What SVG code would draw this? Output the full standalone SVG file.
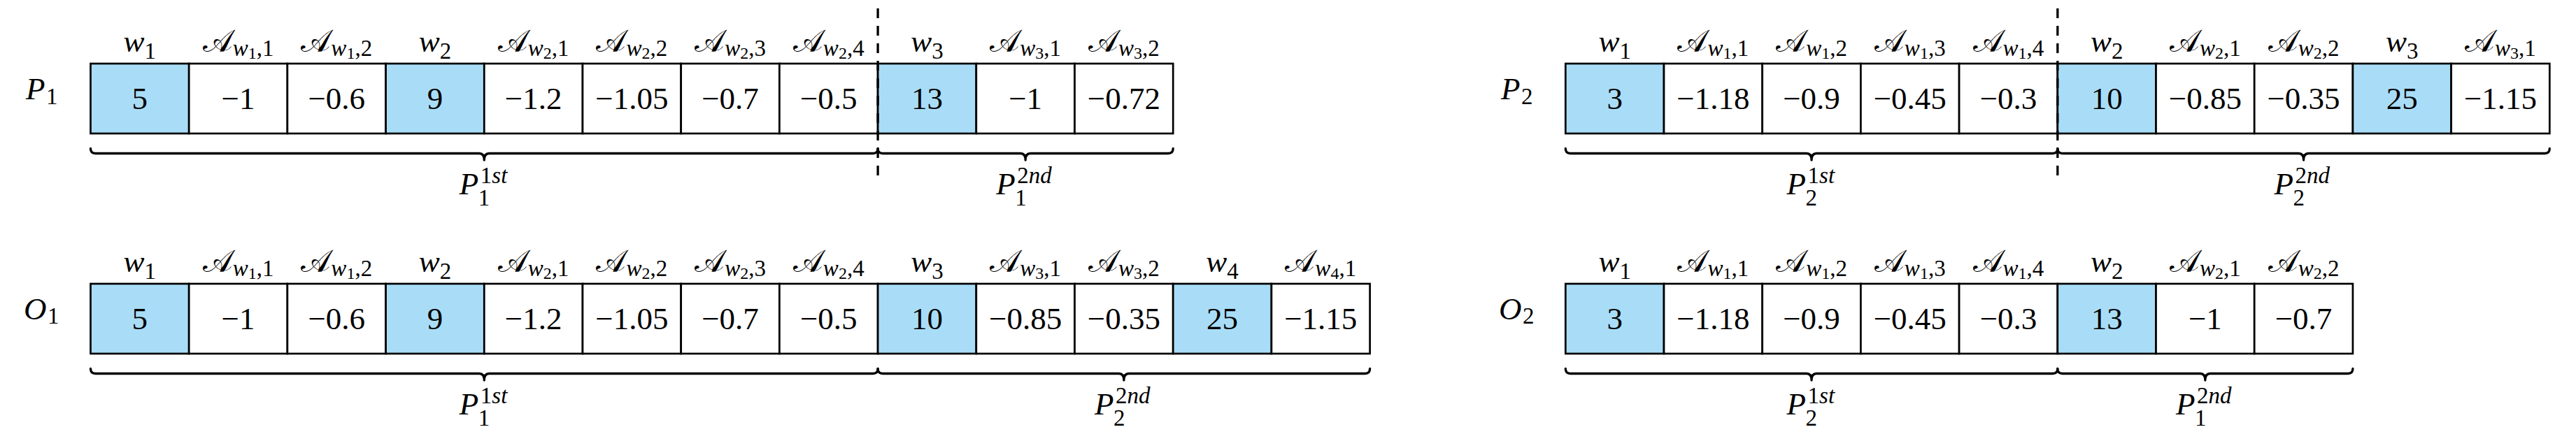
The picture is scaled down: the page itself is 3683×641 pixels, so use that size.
<svg xmlns="http://www.w3.org/2000/svg" width="3683" height="641" viewBox="0 0 3683 641">
<style>
text{font-family:"Liberation Serif",serif;fill:#000}
.lab{font-size:45px;text-anchor:middle}
.num{font-size:45px;text-anchor:middle}
.rl{font-size:45px}
.it{font-style:italic}
.cal{font-family:"DejaVu Serif","DejaVu Sans",serif;font-style:normal}
.s{font-size:33px}
.ss{font-size:24px}
.cell{fill:#fff;stroke:#000;stroke-width:2.7}
.blue{fill:#A9DDF7}
.brace{fill:none;stroke:#000;stroke-width:3.3;stroke-linecap:round;stroke-linejoin:round}
.dash{fill:none;stroke:#000;stroke-width:3.3;stroke-dasharray:14 11}
</style>

<!-- ===== P1 row ===== -->
<g id="row-P1">
<text class="rl it" x="37" y="141.5">P</text><text class="rl s" x="66" y="148.5">1</text>
<g id="P1-c0"><rect class="cell blue" x="129.5" y="91" width="140.7" height="100"/><text class="num" x="199.85" y="156">5</text><text class="lab" x="199.85" y="73.6"><tspan class="it">w</tspan><tspan class="s" dy="10">1</tspan></text></g>
<g id="P1-c1"><rect class="cell" x="270.2" y="91" width="140.7" height="100"/><text class="num" x="340.55" y="156">−1</text><text class="lab" x="340.55" y="73.6"><tspan class="cal">𝒜</tspan><tspan class="s it" dy="6">w</tspan><tspan class="ss" dy="4">1</tspan><tspan class="s" dy="-4">,1</tspan></text></g>
<g id="P1-c2"><rect class="cell" x="410.9" y="91" width="140.7" height="100"/><text class="num" x="481.25" y="156">−0.6</text><text class="lab" x="481.25" y="73.6"><tspan class="cal">𝒜</tspan><tspan class="s it" dy="6">w</tspan><tspan class="ss" dy="4">1</tspan><tspan class="s" dy="-4">,2</tspan></text></g>
<g id="P1-c3"><rect class="cell blue" x="551.6" y="91" width="140.7" height="100"/><text class="num" x="621.95" y="156">9</text><text class="lab" x="621.95" y="73.6"><tspan class="it">w</tspan><tspan class="s" dy="10">2</tspan></text></g>
<g id="P1-c4"><rect class="cell" x="692.3" y="91" width="140.7" height="100"/><text class="num" x="762.65" y="156">−1.2</text><text class="lab" x="762.65" y="73.6"><tspan class="cal">𝒜</tspan><tspan class="s it" dy="6">w</tspan><tspan class="ss" dy="4">2</tspan><tspan class="s" dy="-4">,1</tspan></text></g>
<g id="P1-c5"><rect class="cell" x="833" y="91" width="140.7" height="100"/><text class="num" x="903.35" y="156">−1.05</text><text class="lab" x="903.35" y="73.6"><tspan class="cal">𝒜</tspan><tspan class="s it" dy="6">w</tspan><tspan class="ss" dy="4">2</tspan><tspan class="s" dy="-4">,2</tspan></text></g>
<g id="P1-c6"><rect class="cell" x="973.7" y="91" width="140.7" height="100"/><text class="num" x="1044.05" y="156">−0.7</text><text class="lab" x="1044.05" y="73.6"><tspan class="cal">𝒜</tspan><tspan class="s it" dy="6">w</tspan><tspan class="ss" dy="4">2</tspan><tspan class="s" dy="-4">,3</tspan></text></g>
<g id="P1-c7"><rect class="cell" x="1114.4" y="91" width="140.7" height="100"/><text class="num" x="1184.75" y="156">−0.5</text><text class="lab" x="1184.75" y="73.6"><tspan class="cal">𝒜</tspan><tspan class="s it" dy="6">w</tspan><tspan class="ss" dy="4">2</tspan><tspan class="s" dy="-4">,4</tspan></text></g>
<g id="P1-c8"><rect class="cell blue" x="1255.1" y="91" width="140.7" height="100"/><text class="num" x="1325.45" y="156">13</text><text class="lab" x="1325.45" y="73.6"><tspan class="it">w</tspan><tspan class="s" dy="10">3</tspan></text></g>
<g id="P1-c9"><rect class="cell" x="1395.8" y="91" width="140.7" height="100"/><text class="num" x="1466.15" y="156">−1</text><text class="lab" x="1466.15" y="73.6"><tspan class="cal">𝒜</tspan><tspan class="s it" dy="6">w</tspan><tspan class="ss" dy="4">3</tspan><tspan class="s" dy="-4">,1</tspan></text></g>
<g id="P1-c10"><rect class="cell" x="1536.5" y="91" width="140.7" height="100"/><text class="num" x="1606.85" y="156">−0.72</text><text class="lab" x="1606.85" y="73.6"><tspan class="cal">𝒜</tspan><tspan class="s it" dy="6">w</tspan><tspan class="ss" dy="4">3</tspan><tspan class="s" dy="-4">,2</tspan></text></g>
</g>

<!-- ===== O1 row ===== -->
<g id="row-O1">
<text class="rl it" x="34" y="456.5">O</text><text class="rl s" x="68" y="463">1</text>
<g id="O1-c0"><rect class="cell blue" x="129.5" y="406" width="140.7" height="100"/><text class="num" x="199.85" y="471">5</text><text class="lab" x="199.85" y="388.6"><tspan class="it">w</tspan><tspan class="s" dy="10">1</tspan></text></g>
<g id="O1-c1"><rect class="cell" x="270.2" y="406" width="140.7" height="100"/><text class="num" x="340.55" y="471">−1</text><text class="lab" x="340.55" y="388.6"><tspan class="cal">𝒜</tspan><tspan class="s it" dy="6">w</tspan><tspan class="ss" dy="4">1</tspan><tspan class="s" dy="-4">,1</tspan></text></g>
<g id="O1-c2"><rect class="cell" x="410.9" y="406" width="140.7" height="100"/><text class="num" x="481.25" y="471">−0.6</text><text class="lab" x="481.25" y="388.6"><tspan class="cal">𝒜</tspan><tspan class="s it" dy="6">w</tspan><tspan class="ss" dy="4">1</tspan><tspan class="s" dy="-4">,2</tspan></text></g>
<g id="O1-c3"><rect class="cell blue" x="551.6" y="406" width="140.7" height="100"/><text class="num" x="621.95" y="471">9</text><text class="lab" x="621.95" y="388.6"><tspan class="it">w</tspan><tspan class="s" dy="10">2</tspan></text></g>
<g id="O1-c4"><rect class="cell" x="692.3" y="406" width="140.7" height="100"/><text class="num" x="762.65" y="471">−1.2</text><text class="lab" x="762.65" y="388.6"><tspan class="cal">𝒜</tspan><tspan class="s it" dy="6">w</tspan><tspan class="ss" dy="4">2</tspan><tspan class="s" dy="-4">,1</tspan></text></g>
<g id="O1-c5"><rect class="cell" x="833" y="406" width="140.7" height="100"/><text class="num" x="903.35" y="471">−1.05</text><text class="lab" x="903.35" y="388.6"><tspan class="cal">𝒜</tspan><tspan class="s it" dy="6">w</tspan><tspan class="ss" dy="4">2</tspan><tspan class="s" dy="-4">,2</tspan></text></g>
<g id="O1-c6"><rect class="cell" x="973.7" y="406" width="140.7" height="100"/><text class="num" x="1044.05" y="471">−0.7</text><text class="lab" x="1044.05" y="388.6"><tspan class="cal">𝒜</tspan><tspan class="s it" dy="6">w</tspan><tspan class="ss" dy="4">2</tspan><tspan class="s" dy="-4">,3</tspan></text></g>
<g id="O1-c7"><rect class="cell" x="1114.4" y="406" width="140.7" height="100"/><text class="num" x="1184.75" y="471">−0.5</text><text class="lab" x="1184.75" y="388.6"><tspan class="cal">𝒜</tspan><tspan class="s it" dy="6">w</tspan><tspan class="ss" dy="4">2</tspan><tspan class="s" dy="-4">,4</tspan></text></g>
<g id="O1-c8"><rect class="cell blue" x="1255.1" y="406" width="140.7" height="100"/><text class="num" x="1325.45" y="471">10</text><text class="lab" x="1325.45" y="388.6"><tspan class="it">w</tspan><tspan class="s" dy="10">3</tspan></text></g>
<g id="O1-c9"><rect class="cell" x="1395.8" y="406" width="140.7" height="100"/><text class="num" x="1466.15" y="471">−0.85</text><text class="lab" x="1466.15" y="388.6"><tspan class="cal">𝒜</tspan><tspan class="s it" dy="6">w</tspan><tspan class="ss" dy="4">3</tspan><tspan class="s" dy="-4">,1</tspan></text></g>
<g id="O1-c10"><rect class="cell" x="1536.5" y="406" width="140.7" height="100"/><text class="num" x="1606.85" y="471">−0.35</text><text class="lab" x="1606.85" y="388.6"><tspan class="cal">𝒜</tspan><tspan class="s it" dy="6">w</tspan><tspan class="ss" dy="4">3</tspan><tspan class="s" dy="-4">,2</tspan></text></g>
<g id="O1-c11"><rect class="cell blue" x="1677.2" y="406" width="140.7" height="100"/><text class="num" x="1747.55" y="471">25</text><text class="lab" x="1747.55" y="388.6"><tspan class="it">w</tspan><tspan class="s" dy="10">4</tspan></text></g>
<g id="O1-c12"><rect class="cell" x="1817.9" y="406" width="140.7" height="100"/><text class="num" x="1888.25" y="471">−1.15</text><text class="lab" x="1888.25" y="388.6"><tspan class="cal">𝒜</tspan><tspan class="s it" dy="6">w</tspan><tspan class="ss" dy="4">4</tspan><tspan class="s" dy="-4">,1</tspan></text></g>
</g>

<!-- ===== P2 row ===== -->
<g id="row-P2">
<text class="rl it" x="2146" y="141.5">P</text><text class="rl s" x="2175" y="148.5">2</text>
<g id="P2-c0"><rect class="cell blue" x="2238.3" y="91" width="140.7" height="100"/><text class="num" x="2308.65" y="156">3</text><text class="lab" x="2308.65" y="73.6"><tspan class="it">w</tspan><tspan class="s" dy="10">1</tspan></text></g>
<g id="P2-c1"><rect class="cell" x="2379" y="91" width="140.7" height="100"/><text class="num" x="2449.35" y="156">−1.18</text><text class="lab" x="2449.35" y="73.6"><tspan class="cal">𝒜</tspan><tspan class="s it" dy="6">w</tspan><tspan class="ss" dy="4">1</tspan><tspan class="s" dy="-4">,1</tspan></text></g>
<g id="P2-c2"><rect class="cell" x="2519.7" y="91" width="140.7" height="100"/><text class="num" x="2590.05" y="156">−0.9</text><text class="lab" x="2590.05" y="73.6"><tspan class="cal">𝒜</tspan><tspan class="s it" dy="6">w</tspan><tspan class="ss" dy="4">1</tspan><tspan class="s" dy="-4">,2</tspan></text></g>
<g id="P2-c3"><rect class="cell" x="2660.4" y="91" width="140.7" height="100"/><text class="num" x="2730.75" y="156">−0.45</text><text class="lab" x="2730.75" y="73.6"><tspan class="cal">𝒜</tspan><tspan class="s it" dy="6">w</tspan><tspan class="ss" dy="4">1</tspan><tspan class="s" dy="-4">,3</tspan></text></g>
<g id="P2-c4"><rect class="cell" x="2801.1" y="91" width="140.7" height="100"/><text class="num" x="2871.45" y="156">−0.3</text><text class="lab" x="2871.45" y="73.6"><tspan class="cal">𝒜</tspan><tspan class="s it" dy="6">w</tspan><tspan class="ss" dy="4">1</tspan><tspan class="s" dy="-4">,4</tspan></text></g>
<g id="P2-c5"><rect class="cell blue" x="2941.8" y="91" width="140.7" height="100"/><text class="num" x="3012.15" y="156">10</text><text class="lab" x="3012.15" y="73.6"><tspan class="it">w</tspan><tspan class="s" dy="10">2</tspan></text></g>
<g id="P2-c6"><rect class="cell" x="3082.5" y="91" width="140.7" height="100"/><text class="num" x="3152.85" y="156">−0.85</text><text class="lab" x="3152.85" y="73.6"><tspan class="cal">𝒜</tspan><tspan class="s it" dy="6">w</tspan><tspan class="ss" dy="4">2</tspan><tspan class="s" dy="-4">,1</tspan></text></g>
<g id="P2-c7"><rect class="cell" x="3223.2" y="91" width="140.7" height="100"/><text class="num" x="3293.55" y="156">−0.35</text><text class="lab" x="3293.55" y="73.6"><tspan class="cal">𝒜</tspan><tspan class="s it" dy="6">w</tspan><tspan class="ss" dy="4">2</tspan><tspan class="s" dy="-4">,2</tspan></text></g>
<g id="P2-c8"><rect class="cell blue" x="3363.9" y="91" width="140.7" height="100"/><text class="num" x="3434.25" y="156">25</text><text class="lab" x="3434.25" y="73.6"><tspan class="it">w</tspan><tspan class="s" dy="10">3</tspan></text></g>
<g id="P2-c9"><rect class="cell" x="3504.6" y="91" width="140.7" height="100"/><text class="num" x="3574.95" y="156">−1.15</text><text class="lab" x="3574.95" y="73.6"><tspan class="cal">𝒜</tspan><tspan class="s it" dy="6">w</tspan><tspan class="ss" dy="4">3</tspan><tspan class="s" dy="-4">,1</tspan></text></g>
</g>

<!-- ===== O2 row ===== -->
<g id="row-O2">
<text class="rl it" x="2143" y="456.5">O</text><text class="rl s" x="2177" y="463">2</text>
<g id="O2-c0"><rect class="cell blue" x="2238.3" y="406" width="140.7" height="100"/><text class="num" x="2308.65" y="471">3</text><text class="lab" x="2308.65" y="388.6"><tspan class="it">w</tspan><tspan class="s" dy="10">1</tspan></text></g>
<g id="O2-c1"><rect class="cell" x="2379" y="406" width="140.7" height="100"/><text class="num" x="2449.35" y="471">−1.18</text><text class="lab" x="2449.35" y="388.6"><tspan class="cal">𝒜</tspan><tspan class="s it" dy="6">w</tspan><tspan class="ss" dy="4">1</tspan><tspan class="s" dy="-4">,1</tspan></text></g>
<g id="O2-c2"><rect class="cell" x="2519.7" y="406" width="140.7" height="100"/><text class="num" x="2590.05" y="471">−0.9</text><text class="lab" x="2590.05" y="388.6"><tspan class="cal">𝒜</tspan><tspan class="s it" dy="6">w</tspan><tspan class="ss" dy="4">1</tspan><tspan class="s" dy="-4">,2</tspan></text></g>
<g id="O2-c3"><rect class="cell" x="2660.4" y="406" width="140.7" height="100"/><text class="num" x="2730.75" y="471">−0.45</text><text class="lab" x="2730.75" y="388.6"><tspan class="cal">𝒜</tspan><tspan class="s it" dy="6">w</tspan><tspan class="ss" dy="4">1</tspan><tspan class="s" dy="-4">,3</tspan></text></g>
<g id="O2-c4"><rect class="cell" x="2801.1" y="406" width="140.7" height="100"/><text class="num" x="2871.45" y="471">−0.3</text><text class="lab" x="2871.45" y="388.6"><tspan class="cal">𝒜</tspan><tspan class="s it" dy="6">w</tspan><tspan class="ss" dy="4">1</tspan><tspan class="s" dy="-4">,4</tspan></text></g>
<g id="O2-c5"><rect class="cell blue" x="2941.8" y="406" width="140.7" height="100"/><text class="num" x="3012.15" y="471">13</text><text class="lab" x="3012.15" y="388.6"><tspan class="it">w</tspan><tspan class="s" dy="10">2</tspan></text></g>
<g id="O2-c6"><rect class="cell" x="3082.5" y="406" width="140.7" height="100"/><text class="num" x="3152.85" y="471">−1</text><text class="lab" x="3152.85" y="388.6"><tspan class="cal">𝒜</tspan><tspan class="s it" dy="6">w</tspan><tspan class="ss" dy="4">2</tspan><tspan class="s" dy="-4">,1</tspan></text></g>
<g id="O2-c7"><rect class="cell" x="3223.2" y="406" width="140.7" height="100"/><text class="num" x="3293.55" y="471">−0.7</text><text class="lab" x="3293.55" y="388.6"><tspan class="cal">𝒜</tspan><tspan class="s it" dy="6">w</tspan><tspan class="ss" dy="4">2</tspan><tspan class="s" dy="-4">,2</tspan></text></g>
</g>

<!-- ===== connectors: braces and dashed split lines ===== -->
<g id="connectors">
<path class="dash" d="M1255.1,12 V262"/>
<path class="dash" d="M2941.8,12 V262"/>
<!-- P1 braces -->
<path class="brace" d="M129.5,212.5 Q129.5,219.5 136.5,219.5 L685.3,219.5 C689.3,219.5 692.3,221.5 692.3,229 C692.3,221.5 695.3,219.5 699.3,219.5 L1248.1,219.5 Q1255.1,219.5 1255.1,212.5"/>
<path class="brace" d="M1255.1,212.5 Q1255.1,219.5 1262.1,219.5 L1459.15,219.5 C1463.15,219.5 1466.15,221.5 1466.15,229 C1466.15,221.5 1469.15,219.5 1473.15,219.5 L1670.2,219.5 Q1677.2,219.5 1677.2,212.5"/>
<!-- O1 braces -->
<path class="brace" d="M129.5,527.5 Q129.5,534.5 136.5,534.5 L685.3,534.5 C689.3,534.5 692.3,536.5 692.3,544 C692.3,536.5 695.3,534.5 699.3,534.5 L1248.1,534.5 Q1255.1,534.5 1255.1,527.5"/>
<path class="brace" d="M1255.1,527.5 Q1255.1,534.5 1262.1,534.5 L1599.85,534.5 C1603.85,534.5 1606.85,536.5 1606.85,544 C1606.85,536.5 1609.85,534.5 1613.85,534.5 L1951.6,534.5 Q1958.6,534.5 1958.6,527.5"/>
<!-- P2 braces -->
<path class="brace" d="M2238.3,212.5 Q2238.3,219.5 2245.3,219.5 L2583.05,219.5 C2587.05,219.5 2590.05,221.5 2590.05,229 C2590.05,221.5 2593.05,219.5 2597.05,219.5 L2934.8,219.5 Q2941.8,219.5 2941.8,212.5"/>
<path class="brace" d="M2941.8,212.5 Q2941.8,219.5 2948.8,219.5 L3286.55,219.5 C3290.55,219.5 3293.55,221.5 3293.55,229 C3293.55,221.5 3296.55,219.5 3300.55,219.5 L3638.3,219.5 Q3645.3,219.5 3645.3,212.5"/>
<!-- O2 braces -->
<path class="brace" d="M2238.3,527.5 Q2238.3,534.5 2245.3,534.5 L2583.05,534.5 C2587.05,534.5 2590.05,536.5 2590.05,544 C2590.05,536.5 2593.05,534.5 2597.05,534.5 L2934.8,534.5 Q2941.8,534.5 2941.8,527.5"/>
<path class="brace" d="M2941.8,527.5 Q2941.8,534.5 2948.8,534.5 L3145.85,534.5 C3149.85,534.5 3152.85,536.5 3152.85,544 C3152.85,536.5 3155.85,534.5 3159.85,534.5 L3356.9,534.5 Q3363.9,534.5 3363.9,527.5"/>
</g>

<!-- ===== brace labels ===== -->
<g id="brace-labels">
<g id="lbl-P1-1st"><text class="rl it" x="656.8" y="278">P</text><text class="s" x="686.8" y="261.5">1<tspan class="it">st</tspan></text><text class="s" x="683.8" y="293.5">1</text></g>
<g id="lbl-P1-2nd"><text class="rl it" x="1424.2" y="278">P</text><text class="s" x="1454.2" y="261.5">2<tspan class="it">nd</tspan></text><text class="s" x="1451.2" y="293.5">1</text></g>
<g id="lbl-O1-1st"><text class="rl it" x="656.8" y="593">P</text><text class="s" x="686.8" y="576.5">1<tspan class="it">st</tspan></text><text class="s" x="683.8" y="608.5">1</text></g>
<g id="lbl-O1-2nd"><text class="rl it" x="1564.9" y="593">P</text><text class="s" x="1594.9" y="576.5">2<tspan class="it">nd</tspan></text><text class="s" x="1591.9" y="608.5">2</text></g>
<g id="lbl-P2-1st"><text class="rl it" x="2554.6" y="278">P</text><text class="s" x="2584.6" y="261.5">1<tspan class="it">st</tspan></text><text class="s" x="2581.6" y="293.5">2</text></g>
<g id="lbl-P2-2nd"><text class="rl it" x="3251.6" y="278">P</text><text class="s" x="3281.6" y="261.5">2<tspan class="it">nd</tspan></text><text class="s" x="3278.6" y="293.5">2</text></g>
<g id="lbl-O2-1st"><text class="rl it" x="2554.6" y="593">P</text><text class="s" x="2584.6" y="576.5">1<tspan class="it">st</tspan></text><text class="s" x="2581.6" y="608.5">2</text></g>
<g id="lbl-O2-2nd"><text class="rl it" x="3110.9" y="593">P</text><text class="s" x="3140.9" y="576.5">2<tspan class="it">nd</tspan></text><text class="s" x="3137.9" y="608.5">1</text></g>
</g>
</svg>
